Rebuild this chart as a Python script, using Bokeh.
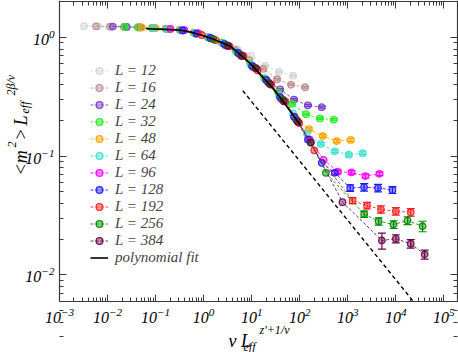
import math
from bokeh.plotting import figure
from bokeh.models import (LogAxis, FixedTicker, Label, Legend, LegendItem,
                          ColumnDataSource, Whisker, TeeHead, Range1d)
from bokeh.embed import file_html
from bokeh.resources import INLINE

# ---------------- data ----------------
sizes = [12, 16, 24, 32, 48, 64, 96, 128, 192, 256, 384]

x12 = [0.00324, 0.00631, 0.0123, 0.0240, 0.0468, 0.0912, 0.178, 0.347, 0.676, 1.32, 2.57, 5.01, 9.77, 19.1, 37.2, 72.4]
y12 = [1.245, 1.243, 1.237, 1.228, 1.218, 1.203, 1.18, 1.15, 1.085, 1.0, 0.895, 0.80, 0.70, 0.58, 0.515, 0.478]
e12 = [0, 0, 0, 0, 0, 0, 0, 0, 0, 0, 0, 0, 0, 0.008, 0.007, 0.007]

x16 = [0.00575, 0.0112, 0.0219, 0.0427, 0.0832, 0.162, 0.316, 0.617, 1.20, 2.34, 4.57, 8.91, 17.4, 33.9, 66.1, 129]
y16 = [1.243, 1.237, 1.23, 1.22, 1.205, 1.185, 1.16, 1.10, 1.01, 0.91, 0.785, 0.645, 0.545, 0.445, 0.40, 0.381]
e16 = [0, 0, 0, 0, 0, 0, 0, 0, 0, 0, 0, 0, 0.008, 0.007, 0.006, 0.006]

x24 = [0.0129, 0.0251, 0.0490, 0.0955, 0.186, 0.363, 0.708, 1.38, 2.69, 5.25, 10.2, 20.0, 38.9, 75.9, 148, 288]
y24 = [1.237, 1.228, 1.217, 1.20, 1.18, 1.148, 1.08, 0.99, 0.885, 0.74, 0.58, 0.44, 0.365, 0.30, 0.268, 0.259]
e24 = [0, 0, 0, 0, 0, 0, 0, 0, 0, 0, 0, 0, 0.006, 0.005, 0.005, 0.005]

x32 = [0.0229, 0.0447, 0.0871, 0.170, 0.331, 0.646, 1.26, 2.45, 4.79, 9.33, 18.2, 35.5, 69.2, 135, 263, 513]
y32 = [1.228, 1.215, 1.20, 1.18, 1.155, 1.09, 1.00, 0.90, 0.76, 0.60, 0.455, 0.345, 0.276, 0.226, 0.208, 0.203]
e32 = [0, 0, 0, 0, 0, 0, 0, 0, 0, 0, 0, 0, 0.005, 0.004, 0.004, 0.004]

x48 = [0.0513, 0.100, 0.195, 0.380, 0.741, 1.45, 2.82, 5.50, 10.7, 20.9, 40.7, 79.4, 155, 302, 589, 1148]
y48 = [1.216, 1.20, 1.18, 1.15, 1.08, 0.98, 0.86, 0.73, 0.565, 0.43, 0.305, 0.215, 0.169, 0.148, 0.134, 0.137]
e48 = [0, 0, 0, 0, 0, 0, 0, 0, 0, 0, 0, 0, 0.004, 0.004, 0.004, 0.004]

x64 = [0.0912, 0.178, 0.347, 0.676, 1.32, 2.57, 5.01, 9.77, 19.1, 37.2, 72.4, 141, 275, 537, 1047, 2042]
y64 = [1.20, 1.18, 1.15, 1.085, 1.0, 0.89, 0.75, 0.585, 0.45, 0.325, 0.23, 0.155, 0.127, 0.110, 0.103, 0.106]
e64 = [0, 0, 0, 0, 0, 0, 0, 0, 0, 0, 0, 0, 0.003, 0.003, 0.003, 0.003]

x96 = [0.204, 0.398, 0.776, 1.51, 2.95, 5.75, 11.2, 21.9, 42.7, 83.2, 162, 316, 617, 1202, 2344, 4571]
y96 = [1.18, 1.155, 1.09, 0.98, 0.855, 0.72, 0.56, 0.42, 0.30, 0.205, 0.138, 0.093, 0.074, 0.073, 0.068, 0.071]
e96 = [0, 0, 0, 0, 0, 0, 0, 0, 0, 0, 0, 0, 0.0025, 0.0025, 0.0025, 0.0025]

x128 = [0.363, 0.708, 1.38, 2.69, 5.25, 10.2, 20.0, 38.9, 75.9, 148, 288, 537, 1122, 2188, 4266, 8511]
y128 = [1.15, 1.08, 0.99, 0.88, 0.74, 0.575, 0.44, 0.315, 0.215, 0.138, 0.088, 0.0725, 0.054, 0.0548, 0.054, 0.052]
e128 = [0, 0, 0, 0, 0, 0, 0, 0, 0, 0, 0, 0.003, 0.0035, 0.004, 0.004, 0.0035]

x192 = [0.912, 1.78, 3.47, 6.76, 13.2, 25.7, 50.1, 97.7, 200, 1259, 2512, 4898, 10000, 20417]
y192 = [1.05, 0.95, 0.845, 0.70, 0.53, 0.40, 0.29, 0.19, 0.112, 0.0423, 0.0384, 0.0356, 0.0344, 0.0337]
e192 = [0, 0, 0, 0, 0, 0, 0, 0, 0, 0.0025, 0.0025, 0.0025, 0.0025, 0.0025]

x256 = [1.58, 3.09, 6.03, 11.7, 22.9, 44.7, 87.1, 170, 350, 2193, 4375, 8970, 17539, 36058]
y256 = [0.97, 0.86, 0.705, 0.555, 0.415, 0.30, 0.20, 0.13, 0.0725, 0.0325, 0.0283, 0.0266, 0.0287, 0.0257]
e256 = [0, 0, 0, 0, 0, 0, 0, 0, 0, 0.002, 0.002, 0.002, 0.0022, 0.0026]

x384 = [3.24, 6.31, 12.3, 24.0, 46.8, 91.2, 170, 776, 5129, 10000, 20417, 39811]
y384 = [0.85, 0.70, 0.55, 0.405, 0.29, 0.195, 0.131, 0.041, 0.0195, 0.0202, 0.0183, 0.0149]
e384 = [0, 0, 0, 0, 0, 0, 0, 0, 0.003, 0.0016, 0.0015, 0.0013]

fit_x = [0.063, 0.158, 0.339, 0.537, 0.871, 1.41, 2.29, 3.72, 6.03, 9.55, 15.5, 25.1, 40.7, 63.1, 105]
fit_y = [1.185, 1.17, 1.15, 1.11, 1.05, 0.985, 0.913, 0.84, 0.705, 0.60, 0.479, 0.39, 0.305, 0.24, 0.181]

guide_amp = 0.91        # dashed guide  y = amp * x^slope, starting at guide_x0
guide_slope = -0.5
guide_x0 = 6.5

series_x = [x12, x16, x24, x32, x48, x64, x96, x128, x192, x256, x384]
series_y = [y12, y16, y24, y32, y48, y64, y96, y128, y192, y256, y384]
series_e = [e12, e16, e24, e32, e48, e64, e96, e128, e192, e256, e384]

colors = ["#d4d4d4", "#bc8f8f", "#7a3cc8", "#22ee22", "#ffa500", "#40e0d0",
          "#ff00ff", "#1a1aff", "#ff2020", "#008b00", "#670748"]

x_ticks = [1e-3, 1e-2, 1e-1, 1e0, 1e1, 1e2, 1e3, 1e4, 1e5]
y_ticks = [1e-2, 1e-1, 1e0]

# ---------------- layout (page pixels of the reference) ----------------
W, H = 458, 352
FL, FR, FT, FB = 59, 457, 0, 301      # plot box edges

def px_x(px):
    return 10 ** (-3 + (px - FL) / 48.05)

def px_y(py):
    return 10 ** ((37 - py) / 118.7)

FONT = "Liberation Serif"
AX = "#3a3a3a"

# the frame covers the whole canvas; the axes are pinned at the plot-box edges
p = figure(width=W, height=H, x_axis_type="log", y_axis_type="log",
           x_range=Range1d(px_x(0), px_x(W)), y_range=Range1d(px_y(H), px_y(0)),
           output_backend="svg", toolbar_location=None, min_border=0)
p.grid.visible = False
p.outline_line_color = None
p.background_fill_color = "white"

x_minor = [m * t for t in x_ticks for m in range(2, 10)]
y_minor = [m * t for t in [1e-3] + y_ticks for m in range(2, 10)]

def style_axis(ax, ticks, minor, labels=True):
    ax.ticker = FixedTicker(ticks=ticks, minor_ticks=minor)
    ax.major_tick_in = 7
    ax.major_tick_out = 0
    ax.minor_tick_in = 4
    ax.minor_tick_out = 0
    ax.axis_line_color = AX
    ax.axis_line_width = 1.2
    ax.major_tick_line_color = AX
    ax.minor_tick_line_color = AX
    ax.major_label_text_font = FONT
    ax.major_label_text_font_style = "italic"
    ax.major_label_text_color = "black"
    ax.major_label_text_font_size = "16px"
    if not labels:
        ax.major_label_text_alpha = 0
        ax.major_label_text_font_size = "1px"
        ax.major_label_standoff = 0

xb = (px_x(FL), px_x(FR))
yb = (px_y(FB), px_y(FT))

bx = p.xaxis[0]
style_axis(bx, x_ticks, x_minor)
bx.fixed_location = px_y(FB)
bx.bounds = xb
bx.major_label_standoff = 6

ly = p.yaxis[0]
style_axis(ly, y_ticks, y_minor)
ly.fixed_location = px_x(FL)
ly.bounds = yb
ly.major_label_standoff = 5

top_ax = LogAxis(fixed_location=px_y(FT + 0.6), bounds=xb)
style_axis(top_ax, x_ticks, x_minor, labels=False)
p.add_layout(top_ax, "above")
right_ax = LogAxis(fixed_location=px_x(FR), bounds=yb)
style_axis(right_ax, y_ticks, y_minor, labels=False)
p.add_layout(right_ax, "right")

# guide line, stopped at the bottom of the plot box
y_bottom = px_y(FB)
guide_x = [guide_x0, (guide_amp / y_bottom) ** (1 / -guide_slope)]
guide_y = [guide_amp * v ** guide_slope for v in guide_x]
p.line(guide_x, guide_y, line_color="black", line_width=1.4, line_dash="4 3")

items = []
for L, xs, ys, es, c in zip(sizes, series_x, series_y, series_e, colors):
    src = ColumnDataSource(dict(x=xs, y=ys))
    lr = p.line("x", "y", source=src, line_color=c, line_width=1, line_dash="3 2", line_alpha=0.85)
    wx = [xv for xv, ev in zip(xs, es) if ev > 0]
    wu = [yv + ev for yv, ev in zip(ys, es) if ev > 0]
    wl = [yv - ev for yv, ev in zip(ys, es) if ev > 0]
    if wx:
        wsrc = ColumnDataSource(dict(x=wx, upper=wu, lower=wl))
        p.add_layout(Whisker(base="x", upper="upper", lower="lower", source=wsrc,
                             line_color=c, line_width=1.2,
                             upper_head=TeeHead(size=8, line_color=c, line_width=1.2),
                             lower_head=TeeHead(size=8, line_color=c, line_width=1.2)))
    sr = p.scatter("x", "y", source=src, size=6.5, marker="circle", line_color=c,
                   line_width=1.3, fill_color=c, fill_alpha=0.45, line_alpha=0.9)
    items.append(LegendItem(label=f"L = {L}", renderers=[lr, sr]))

fr = p.line(fit_x, fit_y, line_color="black", line_width=1.6)
items.append(LegendItem(label="polynomial fit", renderers=[fr]))

legend = Legend(items=items, location=(90, 86), padding=0, margin=0, spacing=0,
                glyph_width=18, glyph_height=17, label_height=17, label_standoff=7,
                label_text_font=FONT, label_text_font_style="italic",
                label_text_font_size="15px", background_fill_alpha=0,
                border_line_alpha=0)
p.add_layout(legend)

# axis titles built from pieces (inside the canvas-wide frame)
def lab(px, py, text, size, angle=0.0):
    p.add_layout(Label(x=px_x(px), y=px_y(py), text=text, angle=angle,
                       text_font=FONT, text_font_style="italic",
                       text_font_size=f"{size}px", text_color="black",
                       text_align="left", text_baseline="alphabetic"))

# x title: v L_eff^{z'+1/nu}
lab(228, 340, "v L", 18)
lab(243, 346, "eff", 12)
lab(259, 329, "z'+1/ν", 12)

# y title: <m^2> L_eff^{2beta/nu}
R = math.pi / 2
lab(20, 175, "<m", 18, R)
lab(11, 147, "2", 12, R)
lab(20, 140, ">", 18, R)
lab(20, 125, "L", 18, R)
lab(24, 113, "eff", 12, R)
lab(10, 95, "2β/ν", 12, R)

open("out.html", "w").write(file_html(p, INLINE))
